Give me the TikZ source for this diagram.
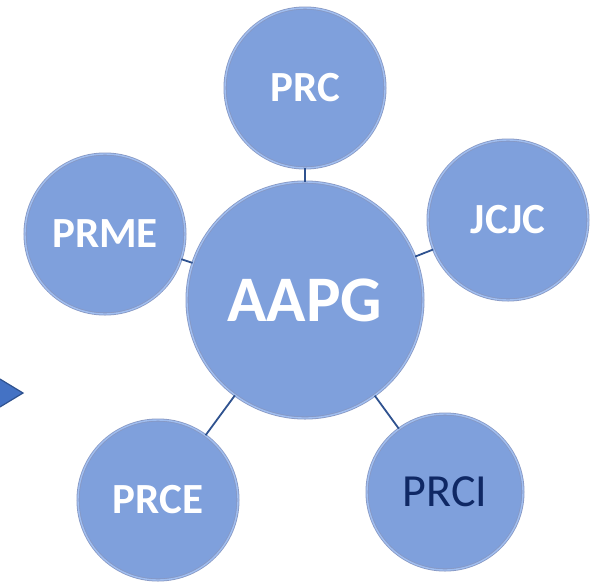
\documentclass[tikz,border=0pt]{standalone}
\usepackage{fontspec}
\setmainfont{Carlito}
\usepackage{tikz}
\definecolor{bubblefill}{RGB}{127,160,220}
\definecolor{bubbleedge}{RGB}{135,152,195}
\definecolor{bubblerim}{RGB}{160,190,240}
\definecolor{linkblue}{RGB}{47,82,143}
\definecolor{navytext}{RGB}{15,40,100}
\definecolor{pointer}{RGB}{68,114,196}
\tikzset{bubble/.style={circle, fill=bubblefill, draw=bubbleedge, line width=0.8pt,
    double=bubblerim, double distance=1.4pt,
    inner sep=0pt, minimum size=160pt, text=white, font=\fontsize{43}{43}\selectfont\bfseries},
  hub/.style={bubble, minimum size=236pt, font=\fontsize{65}{65}\selectfont\bfseries},
  link/.style={draw=linkblue, line width=1.8pt}}

\begin{document}
\begin{tikzpicture}[x=1pt, y=-1pt]
\useasboundingbox (0,0) rectangle (598,582);
\node[hub] (AAPG) at (305,300) {AAPG};
\node[bubble] (PRC) at (305,88) {PRC};
\node[bubble] (JCJC) at (508,220) {JCJC};
\node[bubble] (PRME) at (105,234) {PRME};
\node[bubble] (PRCE) at (158,500) {PRCE};
\node[bubble, minimum size=156pt, text=navytext,
  font=\fontsize{46}{46}\selectfont] (PRCI) at (445,492) {PRCI};

\path (AAPG) edge[link] (PRC);
\path (AAPG) edge[link] (JCJC);
\path (AAPG) edge[link] (PRME);
\path (AAPG) edge[link] (PRCE);
\path (AAPG) edge[link] (PRCI);

% arrow stub on the left edge
\filldraw[fill=pointer, draw=linkblue, line width=1.2pt]
  (-10,373) -- (23,393) -- (-10,413) -- cycle;
\end{tikzpicture}
\end{document}
